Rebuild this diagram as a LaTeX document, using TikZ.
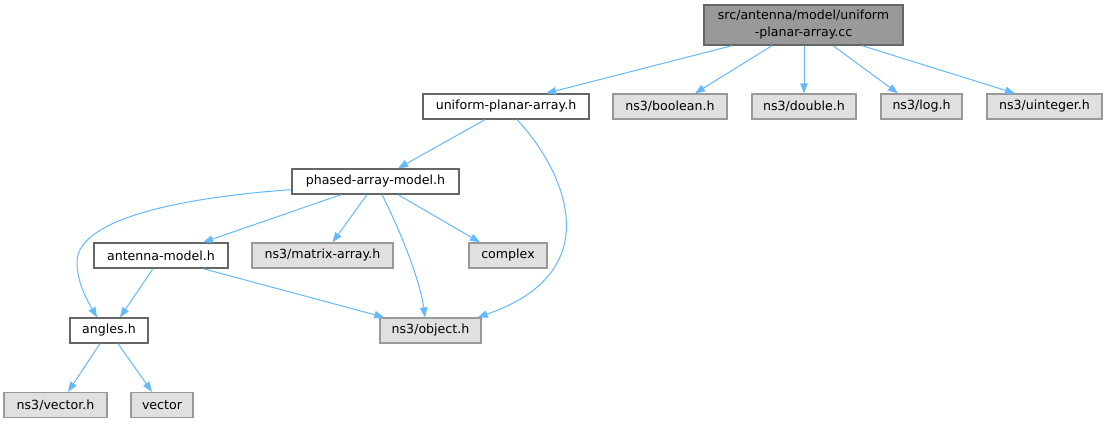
\documentclass[tikz,border=0pt]{standalone}
\usepackage{fontspec}
\setmainfont{DejaVu Sans}
\usetikzlibrary{arrows.meta,calc}
\definecolor{edgec}{HTML}{63B8FF}
\definecolor{grayfill}{HTML}{E0E0E0}
\definecolor{grayline}{HTML}{999999}
\definecolor{darkline}{HTML}{666666}
\definecolor{topfill}{HTML}{999999}
\tikzset{
  nbox/.style={draw=darkline, line width=1.3pt, fill=white, minimum height=25pt, inner sep=0pt, font=\fontsize{12.6}{17}\selectfont},
  sysbox/.style={nbox, draw=grayline, fill=grayfill},
  topbox/.style={nbox, draw=darkline, fill=topfill, minimum height=40pt, align=center},
  dep/.style={draw=edgec, line width=1pt, -{Triangle[length=10pt,width=7.5pt]}},
}
\begin{document}
\begin{tikzpicture}[x=1pt,y=-1pt]
\useasboundingbox (0,0) rectangle (1107,424);
% nodes
\node[topbox, minimum width=199pt] (top) at (803.5,25) {src/antenna/model/uniform\\-planar-array.cc};
\node[nbox, minimum width=166pt] (upa) at (506,106.5) {uniform-planar-array.h};
\node[sysbox, minimum width=114pt] (bool) at (670,106.5) {ns3/boolean.h};
\node[sysbox, minimum width=104pt] (dbl) at (804,106.5) {ns3/double.h};
\node[sysbox, minimum width=81pt] (log) at (921.5,106.5) {ns3/log.h};
\node[sysbox, minimum width=115pt] (uint) at (1044.5,106.5) {ns3/uinteger.h};
\node[nbox, minimum width=167pt] (pam) at (375.5,181.5) {phased-array-model.h};
\node[nbox, minimum width=134pt] (ant) at (161,255.5) {antenna-model.h};
\node[sysbox, minimum width=141pt] (mat) at (322.5,255.5) {ns3/matrix-array.h};
\node[sysbox, minimum width=78pt] (cplx) at (508,255.5) {complex};
\node[nbox, minimum width=78pt] (ang) at (109,330.5) {angles.h};
\node[sysbox, minimum width=101pt] (obj) at (430.5,330.5) {ns3/object.h};
\node[sysbox, minimum width=103pt] (vech) at (55.5,405) {ns3/vector.h};
\node[sysbox, minimum width=62pt] (vec) at (162,405) {vector};
% edges from top
\draw[dep] ($(top.south)+(-71.5,0)$) -- ($(upa.north)+(40,0)$);
\draw[dep] ($(top.south)+(-31.5,0)$) -- ($(bool.north)+(25,0)$);
\draw[dep] ($(top.south)+(0.5,0)$) -- ($(dbl.north)+(0,0)$);
\draw[dep] ($(top.south)+(29.5,0)$) -- ($(log.north)+(-23.5,0)$);
\draw[dep] ($(top.south)+(58.5,0)$) -- ($(uint.north)+(-29.5,0)$);
% uniform-planar-array.h
\draw[dep] ($(upa.south)+(-21,0)$) -- ($(pam.north)+(22.5,0)$);
\draw[dep] ($(upa.south)+(11,0)$) .. controls (560,165) and (615,270) .. ($(obj.north east)+(-4,0)$);
% phased-array-model.h
\draw[dep] ($(pam.south west)+(0,-5)$) .. controls (200,196) and (77,215) .. (77,262) .. controls (77,285) and (90,305) .. ($(ang.north)+(-12,0)$);
\draw[dep] ($(pam.south)+(-34.5,0)$) -- ($(ant.north)+(42,0)$);
\draw[dep] ($(pam.south)+(-8.5,0)$) -- ($(mat.north)+(10,0)$);
\draw[dep] ($(pam.south)+(6.5,0)$) .. controls (400,230) and (420,280) .. ($(obj.north)+(-5.5,0)$);
\draw[dep] ($(pam.south)+(22.5,0)$) -- ($(cplx.north)+(-28,0)$);
% antenna-model.h
\draw[dep] ($(ant.south)+(-8,0)$) -- ($(ang.north)+(11,0)$);
\draw[dep] ($(ant.south)+(42,0)$) -- ($(obj.north west)+(5,0)$);
% angles.h
\draw[dep] ($(ang.south)+(-9,0)$) -- ($(vech.north)+(12.5,0)$);
\draw[dep] ($(ang.south)+(9,0)$) -- ($(vec.north)+(-10,0)$);
\end{tikzpicture}
\end{document}
